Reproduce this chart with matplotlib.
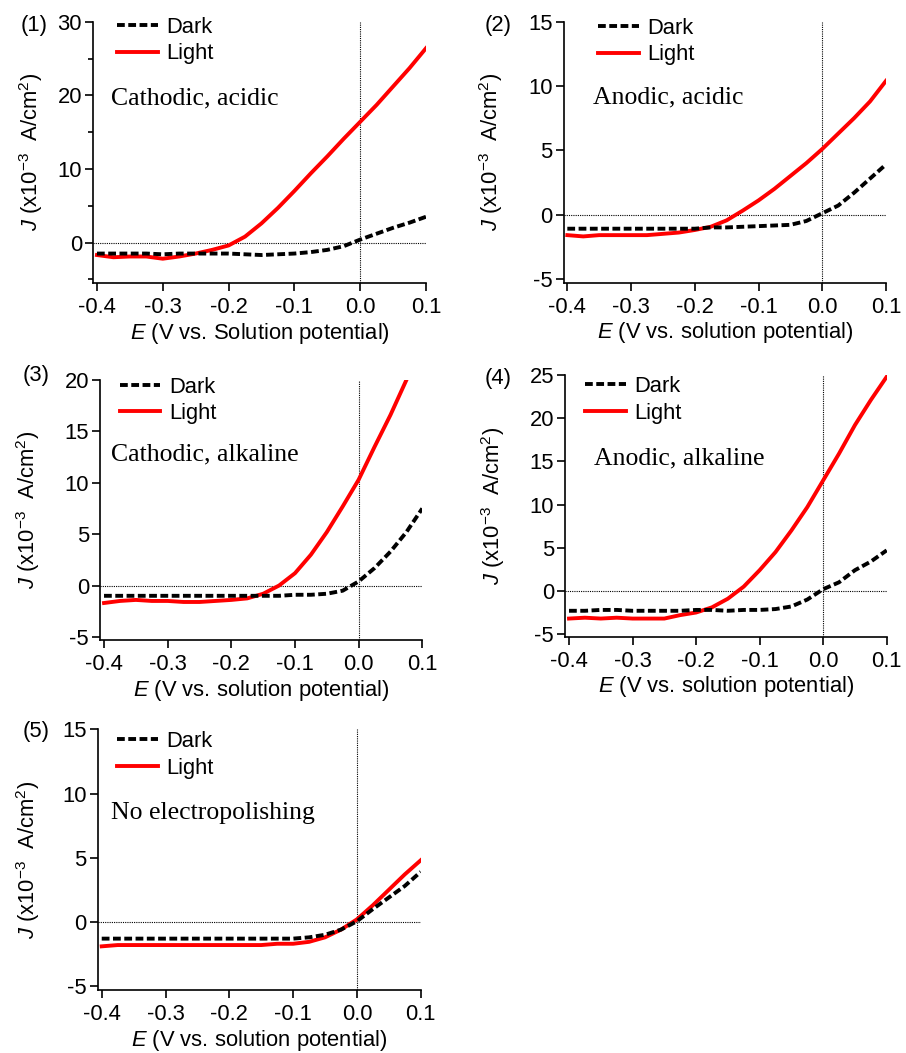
import numpy as np
import matplotlib
matplotlib.use('Agg')
import matplotlib.pyplot as plt

plt.rcParams['font.family'] = ['Liberation Sans', 'DejaVu Sans']
plt.rcParams['mathtext.fontset'] = 'custom'
plt.rcParams['mathtext.rm'] = 'Liberation Sans'
plt.rcParams['mathtext.it'] = 'Liberation Sans:italic'
plt.rcParams['axes.unicode_minus'] = False

# potential grid (V vs. solution potential)
E = [-0.4, -0.375, -0.35, -0.325, -0.3, -0.275, -0.25, -0.225, -0.2, -0.175, -0.15,
     -0.125, -0.1, -0.075, -0.05, -0.025, 0.0, 0.025, 0.05, 0.075, 0.1]

# (1) cathodic, acidic
dark1 = [-1.5, -1.5, -1.5, -1.5, -1.6, -1.5, -1.5, -1.5, -1.5, -1.6, -1.7,
         -1.6, -1.5, -1.3, -1.0, -0.5, 0.4, 1.2, 2.0, 2.7, 3.5]
light1 = [-1.7, -2.0, -1.9, -1.9, -2.2, -1.9, -1.5, -1.0, -0.4, 0.8, 2.6,
          4.7, 7.0, 9.4, 11.7, 14.1, 16.4, 18.7, 21.2, 23.7, 26.4]
# (2) anodic, acidic
dark2 = [-1.1, -1.1, -1.1, -1.1, -1.1, -1.1, -1.1, -1.1, -1.1, -1.0, -1.0,
         -0.95, -0.9, -0.85, -0.8, -0.5, 0.1, 0.7, 1.7, 2.8, 3.9]
light2 = [-1.6, -1.7, -1.6, -1.6, -1.6, -1.6, -1.5, -1.4, -1.2, -0.95, -0.45,
          0.3, 1.1, 2.0, 3.0, 4.0, 5.1, 6.3, 7.5, 8.8, 10.4]
# (3) cathodic, alkaline
dark3 = [-1.0, -1.0, -1.0, -1.0, -1.0, -1.0, -1.0, -1.0, -1.0, -1.0, -1.0,
         -1.0, -0.9, -0.9, -0.8, -0.5, 0.4, 1.7, 3.3, 5.2, 7.5]
light3 = [-1.7, -1.5, -1.4, -1.5, -1.5, -1.6, -1.6, -1.5, -1.4, -1.25, -0.8,
          0.0, 1.2, 3.0, 5.2, 7.7, 10.3, 13.5, 16.6, 20.0]
# (4) anodic, alkaline
dark4 = [-2.3, -2.3, -2.2, -2.2, -2.3, -2.3, -2.3, -2.3, -2.2, -2.2, -2.3,
         -2.2, -2.2, -2.1, -1.8, -1.0, 0.2, 1.0, 2.4, 3.4, 4.7]
light4 = [-3.2, -3.1, -3.2, -3.1, -3.2, -3.2, -3.2, -2.8, -2.5, -1.9, -0.9,
          0.5, 2.4, 4.5, 7.0, 9.7, 12.8, 15.9, 19.2, 22.1, 24.8]
# (5) no electropolishing
dark5 = [-1.3, -1.3, -1.3, -1.3, -1.3, -1.3, -1.3, -1.3, -1.3, -1.3, -1.3,
         -1.3, -1.3, -1.2, -1.0, -0.6, 0.05, 1.0, 1.9, 2.8, 3.9]
light5 = [-1.9, -1.8, -1.8, -1.8, -1.8, -1.8, -1.8, -1.8, -1.8, -1.8, -1.8,
          -1.7, -1.7, -1.55, -1.2, -0.6, 0.2, 1.3, 2.5, 3.7, 4.8]

tags = ['(1)', '(2)', '(3)', '(4)', '(5)']
notes = ['Cathodic, acidic', 'Anodic, acidic', 'Cathodic, alkaline',
         'Anodic, alkaline', 'No electropolishing']
xlabels = ['Solution', 'solution', 'solution', 'solution', 'solution']
darks = [dark1, dark2, dark3, dark4, dark5]
lights = [light1, light2, light3, light4, light5]
ylims = [(-5.5, 30), (-5.3, 15), (-5.3, 20), (-5.3, 25), (-5.3, 15)]
yticks = [[0, 10, 20, 30], [-5, 0, 5, 10, 15], [-5, 0, 5, 10, 15, 20],
          [-5, 0, 5, 10, 15, 20, 25], [-5, 0, 5, 10, 15]]

W, H = 906, 1053
# axes boxes in pixels: left, right, top, bottom
boxes = [(93, 426, 21.7, 283), (563.5, 886, 21.7, 282.7), (100.2, 422.3, 380, 640),
         (565.2, 886.7, 375, 636.7), (97.9, 420.7, 729.3, 990)]
tag_pos = [(21, 25), (485, 25), (23, 375), (485, 378), (23, 732)]
note_pos = [(0.054, 0.708), (0.092, 0.709), (0.034, 0.714), (0.090, 0.682), (0.041, 0.678)]
leg_pos = [(0.072, 1.019), (0.108, 1.015), (0.061, 1.013), (0.062, 0.996), (0.060, 0.993)]
ylab_x = [-0.144, -0.181, -0.181, -0.181, -0.173]

fs = 15.8
fig = plt.figure(figsize=(W / 100, H / 100), dpi=100)

for i in range(5):
    l, r, t, b = boxes[i]
    ax = fig.add_axes([l / W, 1 - b / H, (r - l) / W, (b - t) / H])
    ax.axhline(0, color='black', lw=0.8, linestyle=(0, (1, 1)), zorder=1)
    ax.axvline(0, color='black', lw=0.8, linestyle=(0, (1, 1)), zorder=1)
    ax.plot(E, darks[i], color='black', lw=2.8, linestyle=(0, (2.0, 0.9)), label='Dark', zorder=3)
    ax.plot(E[:len(lights[i])], lights[i], color='#ff0000', lw=2.8, label='Light', zorder=2)
    ax.set_xlim(-0.406, 0.1)
    ax.set_ylim(*ylims[i])
    ax.set_xticks([-0.4, -0.3, -0.2, -0.1, 0.0, 0.1])
    ax.set_xticklabels(['-0.4', '-0.3', '-0.2', '-0.1', '0.0', '0.1'])
    ax.set_yticks(yticks[i])
    if i == 0:
        ax.set_yticks([-5, 5, 15, 25], minor=True)
    for s in ['top', 'right']:
        ax.spines[s].set_visible(False)
    for s in ['left', 'bottom']:
        ax.spines[s].set_linewidth(1.2)
    ax.tick_params(which='major', direction='out', length=6, width=1.2, labelsize=fs, pad=2)
    ax.tick_params(axis='x', which='major', pad=4)
    ax.tick_params(which='minor', direction='out', length=3.5, width=1.2)
    ax.set_xlabel('$E$ (V vs. %s potential)' % xlabels[i], fontsize=fs, labelpad=2)
    ax.set_ylabel(r'$J$ (x10$^{-3}$  A/cm$^{2}$)', fontsize=fs)
    ax.yaxis.set_label_coords(ylab_x[i], 0.5)
    ax.text(note_pos[i][0], note_pos[i][1], notes[i], transform=ax.transAxes,
            family='Liberation Serif', fontsize=18.5, va='center', ha='left')
    ax.legend(loc='upper left', bbox_to_anchor=leg_pos[i], frameon=False, fontsize=fs,
              handlelength=1.85, handletextpad=0.4, borderpad=0, borderaxespad=0,
              labelspacing=0.25)
    fig.text(tag_pos[i][0] / W, 1 - tag_pos[i][1] / H, tags[i], fontsize=fs,
             ha='left', va='center')

fig.savefig('out.png', dpi=100)
